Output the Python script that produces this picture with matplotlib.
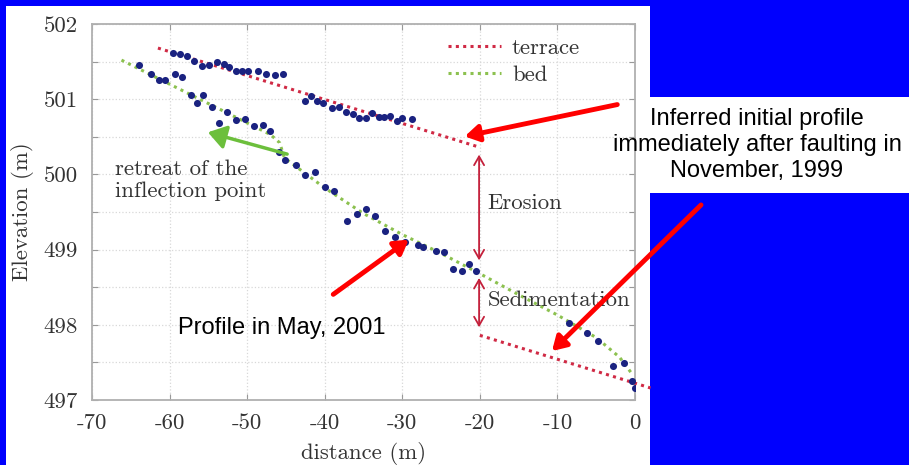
import numpy as np
import matplotlib.pyplot as plt
from matplotlib.patches import Rectangle, FancyArrowPatch

plt.rcParams['font.family'] = 'cmr10'
plt.rcParams['mathtext.fontset'] = 'cm'
plt.rcParams['axes.unicode_minus'] = False

# surveyed points (distance m, elevation m)
terrace_x = [-59.6, -58.7, -57.8, -56.9, -55.8, -54.9, -53.9, -53.0, -52.3, -51.5, -50.7,
             -49.9, -48.6, -47.6, -46.4, -45.4, -42.5, -41.8, -41.0, -40.2, -39.0, -38.2,
             -37.2, -36.4, -35.6, -34.7, -33.9, -33.0, -32.3, -31.6, -30.7, -30.0, -28.8]
terrace_y = [501.62, 501.60, 501.57, 501.51, 501.44, 501.45, 501.49, 501.47, 501.43, 501.37, 501.38,
             501.38, 501.37, 501.34, 501.32, 501.34, 500.97, 501.04, 500.98, 500.95, 500.88, 500.89,
             500.83, 500.80, 500.75, 500.75, 500.82, 500.76, 500.76, 500.78, 500.71, 500.75, 500.74]

bed_x = [-64.0, -62.4, -61.3, -60.6, -59.3, -58.4, -57.3, -56.5, -55.7, -54.5, -53.6, -52.6,
         -51.4, -50.3, -49.1, -48.0, -47.1, -45.9, -45.1, -43.7, -42.5, -41.3, -39.9, -38.8,
         -37.1, -35.9, -34.7, -33.5, -32.2, -30.9, -29.6, -28.0, -27.3, -25.6, -24.6, -23.5,
         -22.3, -21.4, -20.5, -8.5, -6.2, -4.8, -2.9, -1.4, -0.4, 0.0]
bed_y = [501.45, 501.34, 501.25, 501.26, 501.34, 501.29, 501.05, 500.95, 501.06, 500.89, 500.69, 500.83,
         500.72, 500.74, 500.65, 500.66, 500.58, 500.30, 500.19, 500.12, 499.99, 500.03, 499.83, 499.78,
         499.38, 499.48, 499.54, 499.45, 499.25, 499.17, 499.10, 499.06, 499.04, 498.98, 498.97, 498.74,
         498.71, 498.81, 498.72, 498.03, 497.89, 497.78, 497.45, 497.49, 497.25, 497.16]

# fitted profiles
terrace_up_x = [-61.5, -20.0]
terrace_up_y = [501.68, 500.36]
terrace_lo_x = [-20.0, 2.0]
terrace_lo_y = [497.86, 497.16]

bed_line_x = [-66.2, -47.0, -45.8, -45.2, -40.0, -35.0, -30.0, -25.0, -20.0, -15.0, -10.0, -5.0, -2.0, -0.4]
bed_line_y = [501.52, 500.53, 500.42, 500.22, 499.82, 499.48, 499.20, 498.95, 498.68, 498.40, 498.13, 497.83, 497.57, 497.35]

W, H = 909, 465
fig = plt.figure(figsize=(W / 100, H / 100), dpi=100, facecolor='#0000fe')


def fp(px, py):
    return (px / W, 1 - py / H)


# white slide panels
fig.add_artist(Rectangle(fp(6, 465), 644 / W, 459 / H, transform=fig.transFigure,
                         facecolor='white', edgecolor='none', zorder=0))
fig.add_artist(Rectangle(fp(650, 193), 259 / W, 96 / H, transform=fig.transFigure,
                         facecolor='white', edgecolor='none', zorder=0))

ax = fig.add_axes([92 / W, 1 - 400 / H, 543 / W, 376 / H])
ax.set_facecolor('white')

red = '#d02a45'
green = '#8cc14f'
dots = '#1a2280'
dotted = (0, (1.0, 1.4))

ax.plot(terrace_up_x, terrace_up_y, color=red, lw=2.2, ls=dotted, label='terrace', zorder=3)
ax.plot(terrace_lo_x, terrace_lo_y, color=red, lw=2.2, ls=dotted, zorder=3, clip_on=False)
ax.plot(bed_line_x, bed_line_y, color=green, lw=2.2, ls=dotted, label='bed', zorder=3)
ax.scatter(terrace_x, terrace_y, s=26, color=dots, zorder=4, linewidths=0)
ax.scatter(bed_x, bed_y, s=26, color=dots, zorder=4, linewidths=0)

ax.set_xlim(-70, 0)
ax.set_ylim(497, 502)
ax.set_xticks(np.arange(-70, 1, 10))
ax.set_yticks(np.arange(497, 502.01, 0.5))
ax.set_yticklabels([f'{v:.0f}' if v == int(v) else '' for v in np.arange(497, 502.01, 0.5)])
ax.tick_params(direction='in', top=True, right=True, length=4, color='#999999',
               labelsize=16.4, pad=10)
ax.grid(True, ls=':', color='#d8d8d8', lw=0.9)
for s in ax.spines.values():
    s.set_color('#b0b0b0')
    s.set_linewidth(1.3)

ax.set_xlabel('distance (m)', fontsize=16.4, labelpad=6, color='#333333')
ax.set_ylabel('Elevation (m)', fontsize=16.4, labelpad=7, color='#333333')
for lab in ax.get_xticklabels() + ax.get_yticklabels():
    lab.set_color('#333333')

leg = ax.legend(loc='upper left', bbox_to_anchor=(0.656, 0.962), frameon=False,
                fontsize=16.4, handlelength=2.3, handletextpad=0.5, labelspacing=0.3,
                borderpad=0, borderaxespad=0)
for t in leg.get_texts():
    t.set_color('#333333')

# erosion / sedimentation brackets
ax.add_patch(FancyArrowPatch((-20.1, 500.30), (-20.1, 498.82), arrowstyle='<->,head_length=0.35,head_width=0.2',
                             mutation_scale=18, color='#c4203b', lw=1.3, zorder=5))
ax.add_patch(FancyArrowPatch((-20.1, 498.66), (-20.1, 497.93), arrowstyle='<->,head_length=0.35,head_width=0.2',
                             mutation_scale=18, color='#c4203b', lw=1.3, zorder=5))
ax.text(-19.0, 499.62, 'Erosion', fontsize=16.4, color='#333333', va='center', ha='left')
ax.text(-19.0, 498.33, 'Sedimentation', fontsize=16.4, color='#333333', va='center', ha='left')

# inflection point retreat
ax.add_patch(FancyArrowPatch((-44.5, 500.26), (-55.4, 500.57), arrowstyle='-|>,head_length=0.6,head_width=0.4',
                             mutation_scale=18, color='#6cbf3c', lw=2.5, zorder=5))
ax.text(-67.0, 499.92, 'retreat of the\ninflection point', fontsize=16.4, color='#333333',
        va='center', ha='left', linespacing=1.15)

# slide annotations
sans = ['Liberation Sans', 'DejaVu Sans']
fig.text(*fp(757, 145), 'Inferred initial profile\nimmediately after faulting in\nNovember, 1999',
         family=sans, fontsize=17, ha='center', va='center', linespacing=1.25, color='black')
fig.text(*fp(178, 328), 'Profile in May, 2001', family=sans, fontsize=17, ha='left', va='center',
         color='black')

for (x0, y0), (x1, y1) in [((620, 104), (462, 137)), ((703, 203), (550, 353)), ((331, 296), (411, 238))]:
    fig.add_artist(FancyArrowPatch(fp(x0, y0), fp(x1, y1), transform=fig.transFigure,
                                   arrowstyle='-|>,head_length=0.75,head_width=0.45', mutation_scale=11,
                                   color='#ff0000', lw=3.5, zorder=10))

fig.savefig('out.png', dpi=100, facecolor=fig.get_facecolor())
